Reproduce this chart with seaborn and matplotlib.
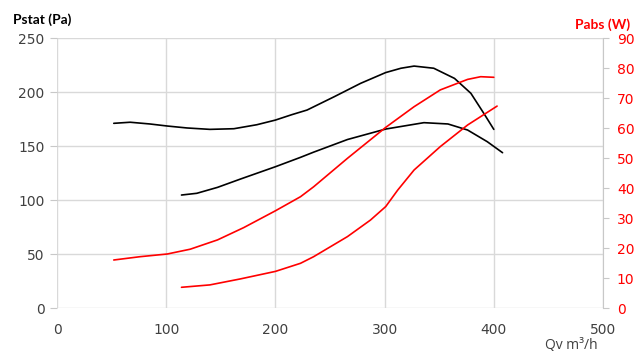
import seaborn as sns
import matplotlib.pyplot as plt

# curves (Qv in m3/h)
qv_p1 = [52, 67, 85, 101, 119, 140, 162, 183, 200, 215, 229, 254, 278, 301,
         315, 327, 345, 364, 379, 391, 400]
pstat_1 = [171, 172, 170.4, 168.5, 166.7, 165.4, 166, 169.7, 174, 179, 183.3,
           195.7, 208, 218, 222, 224, 222, 212.6, 198.8, 180, 165.4]

qv_p2 = [114, 128, 147, 168, 200, 223, 235, 266, 301, 336, 358, 376, 394, 408]
pstat_2 = [104.6, 106.2, 111.7, 119.4, 130.8, 139.5, 144.3, 156, 165.7,
           171.6, 170.4, 164.8, 154, 143.8]

qv_w1 = [52, 76, 101, 122, 147, 171, 200, 223, 235, 266, 301, 327, 351, 376, 388, 400]
pabs_1 = [16, 17.1, 18, 19.6, 22.7, 26.8, 32.4, 37.1, 40.4, 49.9, 60.2,
          67.1, 72.7, 76.2, 77.1, 76.9]

qv_w2 = [114, 140, 168, 200, 223, 235, 266, 287, 301, 312, 327, 351, 376, 403]
pabs_2 = [6.9, 7.7, 9.7, 12.2, 14.9, 17.1, 23.8, 29.3, 33.8, 39.3, 46,
          53.8, 61, 67.3]

x_ticks = [0, 100, 200, 300, 400, 500]
left_ticks = [0, 50, 100, 150, 200, 250]
right_ticks = list(range(0, 91, 10))

sns.set_style("white")
plt.rcParams['font.family'] = ['DejaVu Sans']

fig = plt.figure(figsize=(6.44, 3.51), dpi=100)
ax = fig.add_axes([57 / 644, 1 - 308 / 351, 546 / 644, 270 / 351])
ax2 = ax.twinx()

grid_c = "#d9d9d9"
lw = 1.2
sns.lineplot(x=qv_p1, y=pstat_1, ax=ax, color="black", linewidth=lw)
sns.lineplot(x=qv_p2, y=pstat_2, ax=ax, color="black", linewidth=lw)
sns.lineplot(x=qv_w1, y=pabs_1, ax=ax2, color="#ff0000", linewidth=lw)
sns.lineplot(x=qv_w2, y=pabs_2, ax=ax2, color="#ff0000", linewidth=lw)

ax.set_xlim(0, 500)
ax.set_ylim(0, 250)
ax2.set_ylim(0, 90)
ax.set_xticks(x_ticks)
ax.set_yticks(left_ticks)
ax2.set_yticks(right_ticks)
ax.grid(True, color=grid_c, linewidth=1)
ax.set_axisbelow(True)

for a in (ax, ax2):
    for s in a.spines.values():
        s.set_visible(False)
ax2.spines["right"].set_visible(True)
ax2.spines["right"].set_color("#c8c8c8")

ax.tick_params(axis="both", length=5, color="#c8c8c8", labelsize=10, labelcolor="#404040", pad=4)
ax.tick_params(axis="x", pad=6)
ax2.tick_params(axis="y", length=4, color="#c8c8c8", labelsize=10, labelcolor="#ff0000", pad=6)
ax.set_xlabel("")
ax.set_ylabel("")
ax2.set_ylabel("")

fig.text(13 / 644, 1 - 20 / 351, "Pstat (Pa)", ha="left", va="center",
         fontsize=10, fontweight="bold", family=["Lato", "DejaVu Sans"], color="black")
fig.text(630 / 644, 1 - 25 / 351, "Pabs (W)", ha="right", va="center",
         fontsize=10, fontweight="bold", family=["Lato", "DejaVu Sans"], color="#ff0000")
fig.text(571 / 644, 1 - 345 / 351, "Qv m³/h", ha="center", va="center",
         fontsize=10, family=["Open Sans", "DejaVu Sans"], color="#404040")

fig.savefig("out.png", dpi=100)
